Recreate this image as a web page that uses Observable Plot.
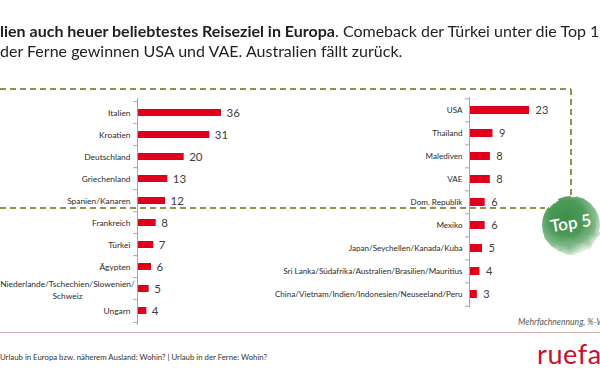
<!DOCTYPE html>
<html>
<head>
<meta charset="utf-8">
<script src="https://cdn.jsdelivr.net/npm/d3@7"></script>
<script src="https://cdn.jsdelivr.net/npm/@observablehq/plot@0.6"></script>
<style>
  html, body { margin: 0; padding: 0; background: #fff; }
  #page { position: relative; width: 600px; height: 385px; overflow: hidden; font-family: Lato, "Noto Sans", sans-serif; color: #1a1a1a; }
  .abs { position: absolute; }
  #title { left: 0; top: 21px; font-size: 16px; line-height: 20px; white-space: nowrap; transform-origin: 0 0; color: #1f1f1f; }
  #title b { font-weight: 700; }
  #note { left: 518px; top: 317px; font-size: 8.6px; font-style: italic; color: #5a5a5a; white-space: nowrap; }
  #footer { left: 0; top: 352px; font-size: 7.8px; color: #333; white-space: nowrap; }
  #logo { left: 537px; top: 337px; font-size: 27px; color: #c8102e; white-space: nowrap; letter-spacing: 0.6px; font-weight: 400; }
  svg.deco { position: absolute; left: 0; top: 0; }
</style>
</head>
<body>
<div id="page">
  <svg class="deco" width="600" height="385" id="decoBack">
    <g stroke="#8f934a" stroke-width="2" stroke-dasharray="6 4" fill="none">
      <line x1="0" y1="89" x2="571" y2="89"></line>
      <line x1="571" y1="89" x2="571" y2="200"></line>
      <line x1="0" y1="208" x2="545" y2="208"></line>
    </g>
    <line x1="0" y1="332.5" x2="600" y2="332.5" stroke="#d9b3b6" stroke-width="1"></line>
  </svg>
  <div id="title" class="abs">
    <div id="l1"><b><span id="h1">Ita</span>lien auch heuer beliebtestes Reiseziel in Europa</b>. Comeback der Türkei unter die Top 10</div>
    <div id="l2"><span id="h2">In </span>der Ferne gewinnen USA und VAE. Australien fällt zurück.</div>
  </div>
  <div id="leftChart" class="abs" style="left:0;top:90px;"></div>
  <div id="rightChart" class="abs" style="left:250px;top:90px;"></div>
  <div id="note" class="abs">Mehrfachnennung, %-Werte</div>
  <div id="footer" class="abs">Urlaub in Europa bzw. näherem Ausland: Wohin? | Urlaub in der Ferne: Wohin?</div>
  <div id="logo" class="abs">ruefa</div>
  <svg class="deco" width="600" height="385" id="decoFront">
    <defs>
      <radialGradient id="blob" cx="42%" cy="38%" r="62%">
        <stop offset="0%" stop-color="#3e8d4a"></stop>
        <stop offset="50%" stop-color="#4e9a59"></stop>
        <stop offset="80%" stop-color="#82b98a"></stop>
        <stop offset="100%" stop-color="#d4e8d4"></stop>
      </radialGradient>
      <filter id="rough" x="-20%" y="-20%" width="140%" height="140%">
        <feTurbulence type="fractalNoise" baseFrequency="0.08" numOctaves="2" seed="3" result="n"></feTurbulence>
        <feDisplacementMap in="SourceGraphic" in2="n" scale="5"></feDisplacementMap>
      </filter>
    </defs>
    <circle cx="571" cy="225" r="29" fill="url(#blob)" filter="url(#rough)"></circle>
    <text x="571" y="229" text-anchor="middle" fill="#fff" font-family="Lato" font-weight="600" font-size="17" transform="rotate(-9 571 225)">Top 5</text>
  </svg>
</div>
<script>
// ---- Data ----
const euroNames = ["Italien", "Kroatien", "Deutschland", "Griechenland", "Spanien/Kanaren", "Frankreich", "Türkei", "Ägypten", "Niederlande/Tschechien/Slowenien/\nSchweiz", "Ungarn"];
const euroValues = [36, 31, 20, 13, 12, 8, 7, 6, 5, 4];
const fernNames = ["USA", "Thailand", "Malediven", "VAE", "Dom. Republik", "Mexiko", "Japan/Seychellen/Kanada/Kuba", "Sri Lanka/Südafrika/Australien/Brasilien/Mauritius", "China/Vietnam/Indien/Indonesien/Neuseeland/Peru"];
const fernValues = [23, 9, 8, 8, 6, 6, 5, 4, 3];

const RED = "#e1001a";
const AXIS = "#a6a6a6";
const FONT = "Lato, 'Noto Sans', sans-serif";

const euro = euroNames.map((name, i) => ({name, value: euroValues[i], wrapped: name.includes("\n")}));
const fern = fernNames.map((name, i) => ({name, value: fernValues[i]}));

function panel(data, names, opts) {
  const {width, height, mt, mb, x0, x1, xmax, step, labelSize, valueSize, valueDx, wrapDx} = opts;
  const single = data.filter(d => !d.wrapped);
  const wrapped = data.filter(d => d.wrapped);
  return Plot.plot({
    width, height,
    marginTop: mt, marginBottom: mb, marginLeft: x0, marginRight: width - x1,
    style: {background: "transparent", overflow: "visible", fontFamily: FONT},
    x: {domain: [0, xmax], range: [x0, x1], axis: null},
    y: {domain: names, paddingInner: 0.66, paddingOuter: 0.33, axis: null},
    marks: [
      Plot.barX(data, {x: "value", y: "name", fill: RED}),
      Plot.ruleX([0], {stroke: AXIS, strokeWidth: 1}),
      Plot.axisY(names, {anchor: "left", tickSize: 4, tickFormat: () => "", dy: -step / 2, stroke: AXIS, label: null}),
      Plot.axisY([names[names.length - 1]], {anchor: "left", tickSize: 4, tickFormat: () => "", dy: step / 2, stroke: AXIS, label: null}),
      Plot.text(single, {x: 0, y: "name", text: "name", textAnchor: "end", dx: -7, fontSize: labelSize, fill: "#2b2b2b"}),
      Plot.text(wrapped, {x: 0, y: "name", text: "name", textAnchor: "middle", dx: wrapDx, fontSize: labelSize, lineHeight: 1.5, fill: "#2b2b2b"}),
      Plot.text(data, {x: "value", y: "name", text: d => String(d.value), textAnchor: "start", dx: valueDx, fontSize: valueSize, fill: "#404040"})
    ]
  });
}

document.getElementById("leftChart").append(panel(euro, euroNames, {
  width: 300, height: 240, mt: 8, mb: 5, x0: 137, x1: 221, xmax: 36, step: 22.7,
  labelSize: 8.4, valueSize: 11.5, valueDx: 5, wrapDx: -70
}));
document.getElementById("rightChart").append(panel(fern, fernNames, {
  width: 350, height: 222, mt: 7, mb: 5, x0: 219, x1: 279, xmax: 23, step: 23.33,
  labelSize: 8.1, valueSize: 11, valueDx: 6, wrapDx: 0
}));

// Title: hide the clipped leading characters and fit widths to the reference
(function fitTitle() {
  const t = document.getElementById("title");
  const h1 = document.getElementById("h1"), h2 = document.getElementById("h2");
  const w1 = h1.getBoundingClientRect().width, w2 = h2.getBoundingClientRect().width;
  document.getElementById("l1").style.marginLeft = (-w1) + "px";
  document.getElementById("l2").style.marginLeft = (-w2) + "px";
  const b = t.querySelector("b").getBoundingClientRect();
  const visibleBold = b.right - t.getBoundingClientRect().left;
  const k = 335 / visibleBold;
  t.style.transform = "scaleX(" + k + ")";
})();
</script>
</body>
</html>
